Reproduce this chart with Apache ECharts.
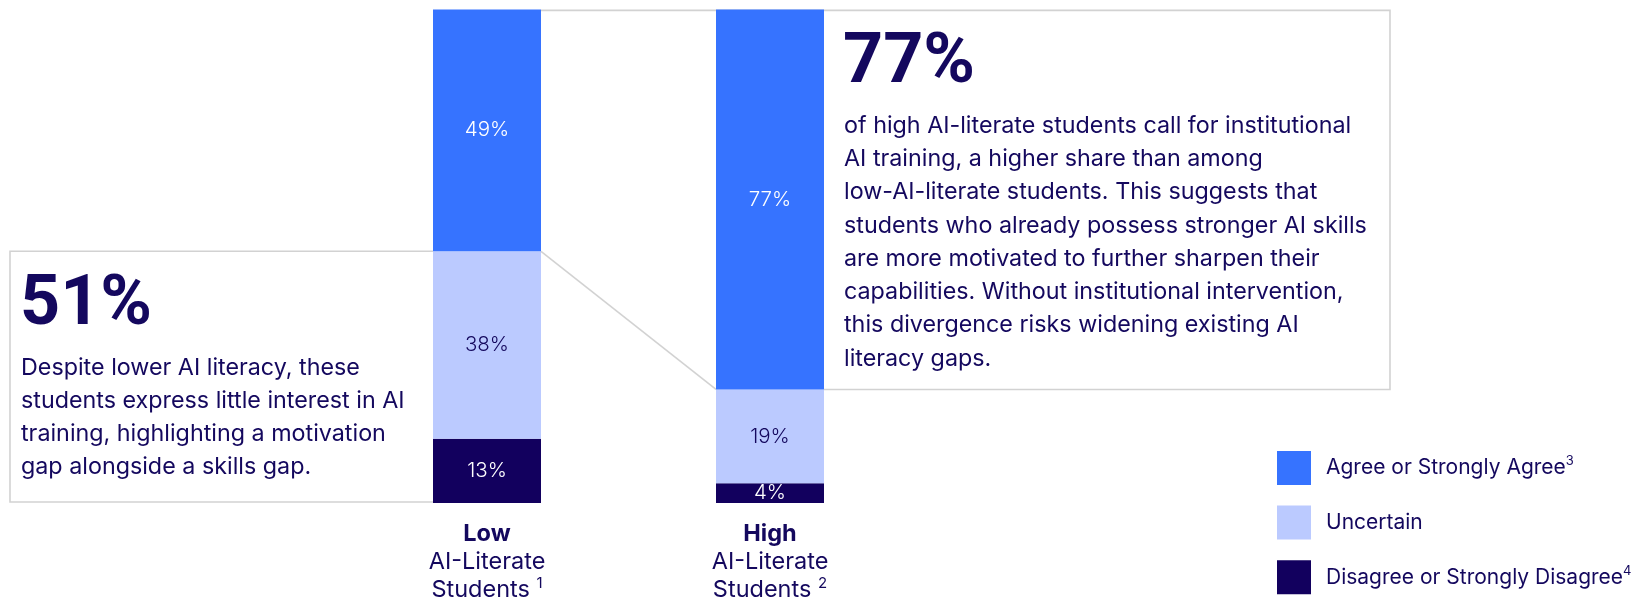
<!DOCTYPE html>
<html>
<head>
<meta charset="utf-8">
<script src="https://cdn.jsdelivr.net/npm/echarts@6/dist/echarts.min.js"></script>
<style>
  html, body { margin: 0; padding: 0; background: #ffffff; }
  #chart { width: 1635px; height: 602px; }
</style>
</head>
<body>
<div id="chart"></div>
<script>
// Survey shares by AI-literacy group
const categories = ['Low', 'High'];
const categoryFootnotes = ['1', '2'];
const agree = [49, 77];
const uncertain = [38, 19];
const disagree = [13, 4];

const seriesNames = ['Agree or Strongly Agree', 'Uncertain', 'Disagree or Strongly Disagree'];
const legendFootnotes = ['3', '', '4'];

const leftHeadline = '51%';
const leftText = [
  'Despite lower AI literacy, these',
  'students express little interest in AI',
  'training, highlighting a motivation',
  'gap alongside a skills gap.'
];
const rightHeadline = '77%';
const rightText = [
  'of high AI-literate students call for institutional',
  'AI training, a higher share than among',
  'low-AI-literate students. This suggests that',
  'students who already possess stronger AI skills',
  'are more motivated to further sharpen their',
  'capabilities. Without institutional intervention,',
  'this divergence risks widening existing AI',
  'literacy gaps.'
];

const NAVY = '#14085e';
const BLUE = '#3673ff';
const LIGHT = '#bbcaff';
const DARK = '#12005e';
const FRAME = '#d2d2d2';
const FONT = 'Inter, "Noto Sans", sans-serif';
const HEAD_FONT = 'Roboto, Inter, sans-serif';
const BAR_W = 108;

const chart = echarts.init(document.getElementById('chart'), null, { renderer: 'canvas' });

function barLabel(color) {
  return {
    show: true,
    position: 'inside',
    formatter: '{c}%',
    color: color,
    fontFamily: FONT,
    fontWeight: 300,
    fontSize: 20.5
  };
}

chart.setOption({
  animation: false,
  backgroundColor: '#ffffff',
  grid: { left: 345.5, right: 723.5, top: 9.4, bottom: 96.3, containLabel: false },
  xAxis: {
    type: 'category',
    data: categories,
    axisLine: { show: false },
    axisTick: { show: false },
    axisLabel: {
      margin: 17,
      interval: 0,
      formatter: function (v, i) {
        return '{b|' + v + '}\n{n|AI-Literate}\n{n|Students }{s|' + categoryFootnotes[i] + '}';
      },
      rich: {
        b: { fontFamily: FONT, fontWeight: 'bold', fontSize: 23.5, color: NAVY, lineHeight: 28 },
        n: { fontFamily: FONT, fontWeight: 400, fontSize: 23.5, color: NAVY, lineHeight: 28 },
        s: { fontFamily: FONT, fontSize: 15, color: NAVY, lineHeight: 28, verticalAlign: 'top' }
      }
    }
  },
  yAxis: {
    type: 'value',
    min: 0,
    max: 100,
    show: false,
    splitLine: { show: false }
  },
  legend: {
    orient: 'vertical',
    left: 1277,
    top: 451,
    padding: 0,
    itemWidth: 34,
    itemHeight: 34,
    itemGap: 20.6,
    icon: 'rect',
    data: seriesNames,
    formatter: function (name) {
      const i = seriesNames.indexOf(name);
      return legendFootnotes[i] ? '{t|' + name + '}{s|' + legendFootnotes[i] + '}' : '{t|' + name + '}';
    },
    textStyle: {
      padding: [0, 0, 0, 10],
      rich: {
        t: { fontFamily: FONT, fontSize: 21, color: NAVY, lineHeight: 26 },
        s: { fontFamily: FONT, fontSize: 13, color: NAVY, lineHeight: 26, verticalAlign: 'top' }
      }
    },
    selectedMode: false
  },
  series: [
    {
      name: seriesNames[2], type: 'bar', stack: 'total', data: disagree, barWidth: BAR_W,
      itemStyle: { color: DARK }, label: barLabel('#ffffff')
    },
    {
      name: seriesNames[1], type: 'bar', stack: 'total', data: uncertain, barWidth: BAR_W,
      itemStyle: { color: LIGHT }, label: barLabel(NAVY)
    },
    {
      name: seriesNames[0], type: 'bar', stack: 'total', data: agree, barWidth: BAR_W,
      itemStyle: { color: BLUE }, label: barLabel('#ffffff')
    }
  ]
});

// Callout frames tied to the segment edges of each bar
const px = (cat) => chart.convertToPixel({ xAxisIndex: 0 }, cat);
const py = (v) => chart.convertToPixel({ yAxisIndex: 0 }, v);

const lowX = px(categories[0]);
const highX = px(categories[1]);
const lowLeft = lowX - BAR_W / 2, lowRight = lowX + BAR_W / 2;
const highLeft = highX - BAR_W / 2, highRight = highX + BAR_W / 2;
const yLowSplit = py(disagree[0] + uncertain[0]);
const yHighSplit = py(disagree[1] + uncertain[1]);
const yBase = py(0);
const yTop = py(100) + 1;
const frameRight = 1390;
const frameLeft = 10;

const lineStyle = { stroke: FRAME, lineWidth: 1.6, fill: null };

chart.setOption({
  graphic: [
    {
      type: 'polyline', z: 1, silent: true,
      shape: { points: [[lowLeft, yLowSplit], [frameLeft, yLowSplit], [frameLeft, yBase - 1], [lowLeft, yBase - 1]] },
      style: lineStyle
    },
    {
      type: 'polyline', z: 1, silent: true,
      shape: { points: [[lowRight, yTop], [frameRight, yTop], [frameRight, yHighSplit], [highRight, yHighSplit]] },
      style: lineStyle
    },
    {
      type: 'line', z: 1, silent: true,
      shape: { x1: lowRight, y1: yLowSplit, x2: highLeft, y2: yHighSplit },
      style: lineStyle
    },
    {
      type: 'text', z: 3, silent: true, x: 20, y: 306,
      style: { text: leftHeadline, fill: NAVY, font: 'bold 70px ' + HEAD_FONT, verticalAlign: 'middle', align: 'left' }
    },
    {
      type: 'text', z: 3, silent: true, x: 21, y: 351,
      style: { text: leftText.join('\n'), fill: NAVY, font: '400 23.3px ' + FONT, lineHeight: 33, verticalAlign: 'top', align: 'left' }
    },
    {
      type: 'text', z: 3, silent: true, x: 843, y: 64,
      style: { text: rightHeadline, fill: NAVY, font: 'bold 70px ' + HEAD_FONT, verticalAlign: 'middle', align: 'left' }
    },
    {
      type: 'text', z: 3, silent: true, x: 844, y: 109,
      style: { text: rightText.join('\n'), fill: NAVY, font: '400 23.3px ' + FONT, lineHeight: 33.3, verticalAlign: 'top', align: 'left' }
    }
  ]
});
</script>
</body>
</html>
